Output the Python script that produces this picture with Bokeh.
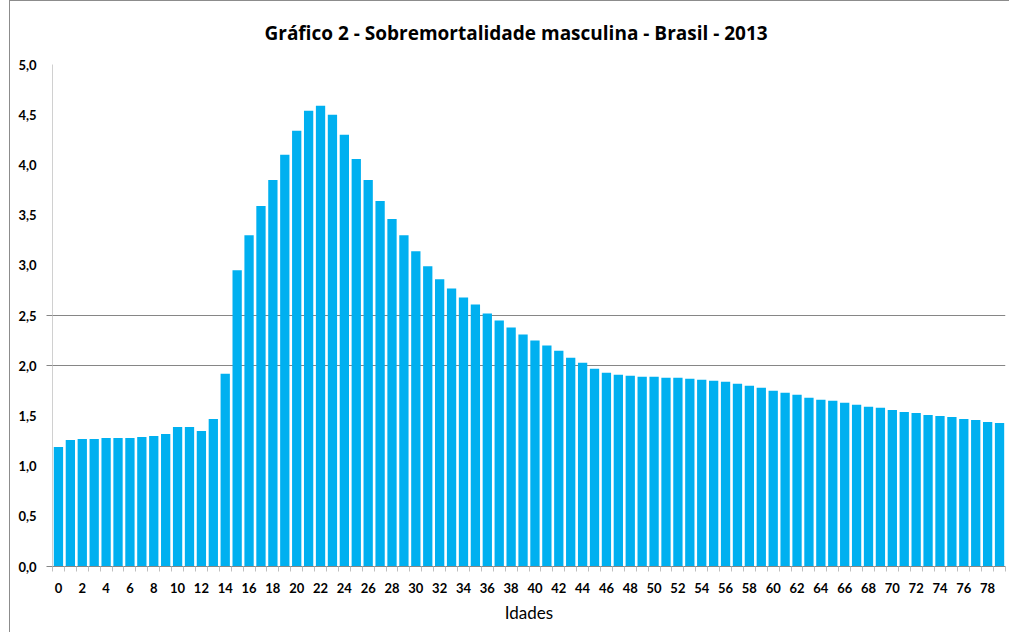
from bokeh.plotting import figure
from bokeh.models import FixedTicker, LinearAxis, CustomJSTickFormatter, Range1d
from bokeh.embed import file_html
from bokeh.resources import INLINE

title = "Gráfico 2 - Sobremortalidade masculina - Brasil - 2013"
x_label = "Idades"
ages = list(range(80))
ratio = [
    1.19, 1.26, 1.27, 1.27, 1.28, 1.28, 1.28, 1.29, 1.30, 1.32,
    1.39, 1.39, 1.35, 1.47, 1.92, 2.95, 3.30, 3.59, 3.85, 4.10,
    4.34, 4.54, 4.59, 4.50, 4.30, 4.06, 3.85, 3.64, 3.46, 3.30,
    3.14, 2.99, 2.86, 2.77, 2.68, 2.61, 2.52, 2.45, 2.38, 2.31,
    2.25, 2.20, 2.15, 2.08, 2.03, 1.97, 1.93, 1.91, 1.90, 1.89,
    1.89, 1.88, 1.88, 1.87, 1.86, 1.85, 1.84, 1.82, 1.80, 1.78,
    1.75, 1.73, 1.71, 1.68, 1.66, 1.65, 1.63, 1.61, 1.59, 1.58,
    1.56, 1.54, 1.53, 1.51, 1.50, 1.49, 1.47, 1.46, 1.44, 1.43,
]
y_ticks = [0.0, 0.5, 1.0, 1.5, 2.0, 2.5, 3.0, 3.5, 4.0, 4.5, 5.0]
grid_levels = [2.0, 2.5]

FONT = "Lato"
TITLE_FONT = "Open Sans"
BAR = "#00B0F0"

p = figure(width=1000, height=632, output_backend="svg", toolbar_location=None,
           x_range=Range1d(-0.5, len(ages) - 0.5), y_range=Range1d(0, 5),
           y_axis_location=None, min_border_left=42, min_border_right=5,
           min_border_top=63, min_border_bottom=67,
           background_fill_color="white", border_fill_color="white",
           outline_line_color=None)

p.vbar(x=ages, top=ratio, width=0.78, fill_color=BAR, line_color=None)

# grid
p.xgrid.visible = False
p.ygrid.ticker = FixedTicker(ticks=grid_levels)
p.ygrid.grid_line_color = "#868686"
p.ygrid.grid_line_width = 1

# x axis
xa = p.xaxis[0]
xa.ticker = FixedTicker(ticks=ages[::2], minor_ticks=[a - 0.5 for a in ages] + [ages[-1] + 0.5])
xa.axis_line_color = "#868686"
xa.major_tick_line_color = None
xa.major_tick_out = 0
xa.major_tick_in = 0
xa.minor_tick_line_color = "#BFBFBF"
xa.minor_tick_out = 5
xa.minor_tick_in = 0
xa.major_label_text_font = FONT
xa.major_label_text_font_style = "bold"
xa.major_label_text_font_size = "13px"
xa.major_label_text_color = "#000000"
xa.major_label_standoff = 11
xa.axis_label = x_label
xa.axis_label_text_font = FONT
xa.axis_label_text_font_style = "normal"
xa.axis_label_text_font_size = "17px"
xa.axis_label_text_color = "#000000"
xa.axis_label_standoff = 6

# inner y axis: line + short ticks at gridlines
ya_in = LinearAxis(ticker=FixedTicker(ticks=[0.0] + grid_levels, minor_ticks=[]),
                   axis_line_color="#D0D0D0", major_tick_line_color="#868686",
                   major_tick_out=6, major_tick_in=0, minor_tick_line_color=None,
                   major_label_standoff=0,
                   formatter=CustomJSTickFormatter(code="return '';"))
p.add_layout(ya_in, "left")

ya = LinearAxis(ticker=FixedTicker(ticks=y_ticks, minor_ticks=[]),
                axis_line_color=None, major_tick_line_color=None, minor_tick_line_color=None,
                major_label_standoff=4,
                formatter=CustomJSTickFormatter(code="return tick.toFixed(1).replace('.', ',');"))
ya.major_label_text_font = FONT
ya.major_label_text_font_style = "bold"
ya.major_label_text_font_size = "13px"
ya.major_label_text_color = "#000000"
p.add_layout(ya, "left")

p.title.text = title
p.title.align = "left"
p.title.offset = 212
p.title.vertical_align = "top"
p.title.text_font = TITLE_FONT
p.title.text_font_style = "bold"
p.title.text_font_size = "19px"
p.title.text_color = "#000000"
p.title.standoff = 34

p.styles = {"margin-left": "9px", "border-left": "1px solid #8C8C8C",
            "border-top": "1px solid #8C8C8C"}

open("out.html", "w").write(file_html(p, INLINE))
